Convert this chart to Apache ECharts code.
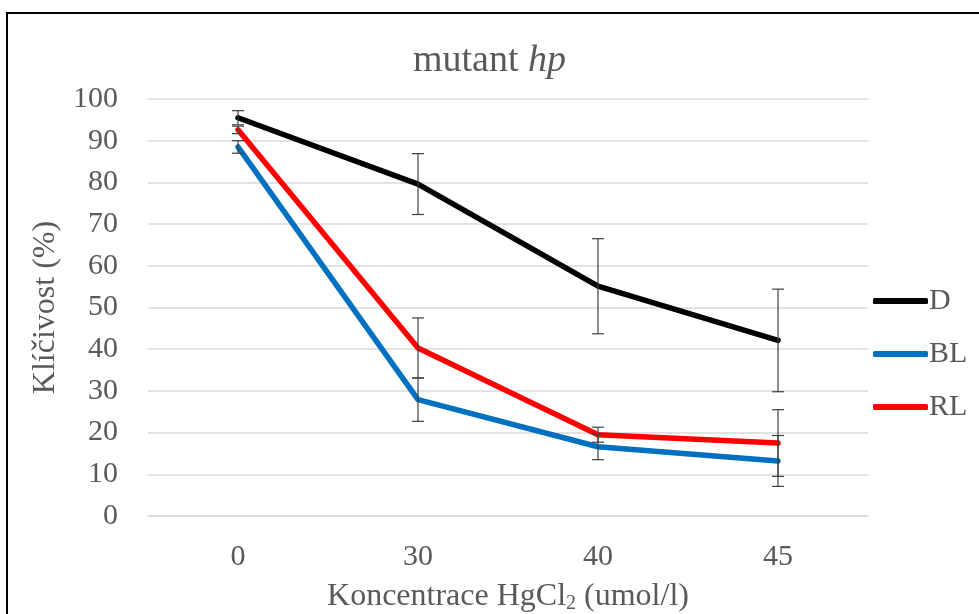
<!DOCTYPE html>
<html>
<head>
<meta charset="utf-8">
<script src="https://cdn.jsdelivr.net/npm/echarts@6/dist/echarts.min.js"></script>
<style>html,body{margin:0;padding:0;background:#fff}#c{width:979px;height:614px}</style>
</head>
<body>
<div id="c"></div>
<script>
var categories = ['0', '30', '40', '45'];
var seriesNames = ['D', 'BL', 'RL'];
var dValues = [95.5, 79.6, 55.1, 42.1];
var dErrors = [1.7, 7.3, 11.4, 12.3];
var blValues = [88.5, 27.9, 16.6, 13.2];
var blErrors = [1.5, 5.2, 3.1, 6.1];
var rlValues = [92.6, 40.3, 19.5, 17.5];
var rlErrors = [0.9, 7.2, 1.8, 8.0];
var yTicks = {min: 0, max: 100, interval: 10};

var FONT = '"Liberation Serif", "DejaVu Serif", serif';
var GRAY = '#595959';
var colors = ['#000000', '#0070C0', '#FF0000'];
var valuesList = [dValues, blValues, rlValues];
var errorsList = [dErrors, blErrors, rlErrors];

function errData(vals, errs) {
  return vals.map(function (v, i) { return [i, v - errs[i], v + errs[i]]; });
}
function renderErr(params, api) {
  var x = api.value(0);
  var lo = api.coord([x, api.value(1)]);
  var hi = api.coord([x, api.value(2)]);
  var hw = 6;
  var st = {stroke: '#404040', lineWidth: 1.2};
  return {type: 'group', children: [
    {type: 'line', shape: {x1: hi[0], y1: hi[1], x2: lo[0], y2: lo[1]}, style: st},
    {type: 'line', shape: {x1: hi[0] - hw, y1: hi[1], x2: hi[0] + hw, y2: hi[1]}, style: st},
    {type: 'line', shape: {x1: lo[0] - hw, y1: lo[1], x2: lo[0] + hw, y2: lo[1]}, style: st}
  ]};
}

var series = [];
seriesNames.forEach(function (n, k) {
  series.push({
    name: n, type: 'line', data: valuesList[k], showSymbol: false, symbol: 'none',
    lineStyle: {color: colors[k], width: 5.5, cap: 'round', join: 'round'},
    itemStyle: {color: colors[k]}, z: 2, silent: true
  });
});
seriesNames.forEach(function (n, k) {
  series.push({
    name: n + '_err', type: 'custom', data: errData(valuesList[k], errorsList[k]),
    renderItem: renderErr, encode: {x: 0, y: [1, 2]}, z: 5, silent: true
  });
});

var chart = echarts.init(document.getElementById('c'), null, {renderer: 'canvas'});
chart.setOption({
  animation: false,
  backgroundColor: '#ffffff',
  title: {
    text: 'mutant {i|hp}', left: 'center', top: 37,
    textStyle: {fontFamily: FONT, fontSize: 38, fontWeight: 'normal', color: GRAY,
      rich: {i: {fontFamily: FONT, fontSize: 38, fontStyle: 'italic', color: GRAY}}}
  },
  graphic: [{type: 'rect', shape: {x: 7, y: 13, width: 1000, height: 700},
    style: {stroke: '#000', lineWidth: 2, fill: null}, z: 100}],
  legend: {
    data: seriesNames, orient: 'vertical', left: 868, top: 281,
    itemWidth: 55, itemHeight: 6, itemGap: 23, icon: 'roundRect',
    textStyle: {fontFamily: FONT, fontSize: 30, color: GRAY, lineHeight: 30, padding: [0, 0, 0, -4]}
  },
  grid: {left: 148, right: 111, top: 99, bottom: 98, containLabel: false, outerBoundsMode: 'none'},
  xAxis: {
    type: 'category', data: categories, boundaryGap: true,
    name: 'Koncentrace HgCl{s|2} (umol/l)', nameLocation: 'middle', nameGap: 64,
    nameTextStyle: {fontFamily: FONT, fontSize: 32, color: GRAY,
      rich: {s: {fontFamily: FONT, fontSize: 20, color: GRAY, padding: [14, 0, 0, 0]}}},
    axisLine: {show: true, lineStyle: {color: '#d9d9d9', width: 1.5}},
    axisTick: {show: false},
    axisLabel: {fontFamily: FONT, fontSize: 30, color: GRAY, margin: 26}
  },
  yAxis: {
    type: 'value', min: yTicks.min, max: yTicks.max, interval: yTicks.interval,
    name: 'Klíčivost (%)', nameLocation: 'middle', nameGap: 86, nameRotate: 90,
    nameTextStyle: {fontFamily: FONT, fontSize: 32, color: GRAY},
    axisLine: {show: false}, axisTick: {show: false},
    axisLabel: {fontFamily: FONT, fontSize: 30, color: GRAY, margin: 30},
    splitLine: {lineStyle: {color: '#d9d9d9', width: 1.5}}
  },
  series: series
});
</script>
</body>
</html>
